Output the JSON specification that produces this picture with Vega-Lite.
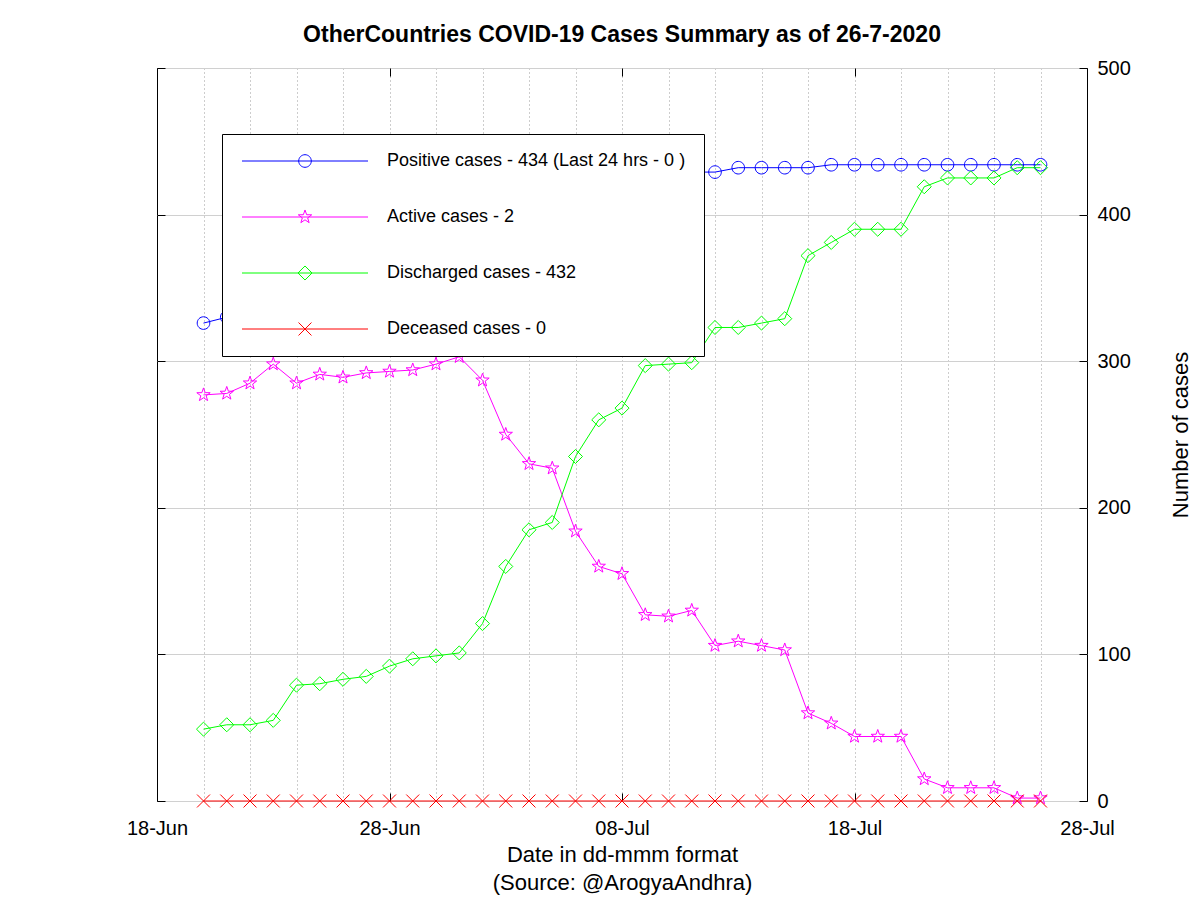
{
  "$schema": "https://vega.github.io/schema/vega-lite/v6.json",
  "width": 930,
  "height": 733,
  "autosize": {"type": "none"},
  "padding": {"left": 157, "top": 68, "right": 113, "bottom": 99},
  "background": "white",
  "title": {
    "text": "OtherCountries COVID-19 Cases Summary as of 26-7-2020",
    "font": "Liberation Sans",
    "fontSize": 23,
    "fontWeight": "bold",
    "color": "#000000",
    "anchor": "middle",
    "baseline": "alphabetic",
    "offset": -7
  },
  "config": {
    "view": {"stroke": "#000000", "strokeWidth": 1},
    "font": "Liberation Sans",
    "axis": {
      "labelFont": "Liberation Sans",
      "titleFont": "Liberation Sans",
      "labelColor": "#000000",
      "titleColor": "#000000",
      "tickColor": "#000000",
      "labelFlush": false,
      "labelOverlap": false,
      "labelBound": false,
      "domain": false
    }
  },
  "data": {
    "values": [
      {"date": "2020-06-20", "positive": 326, "active": 277, "discharged": 49, "deceased": 0},
      {"date": "2020-06-21", "positive": 330, "active": 278, "discharged": 52, "deceased": 0},
      {"date": "2020-06-22", "positive": 337, "active": 285, "discharged": 52, "deceased": 0},
      {"date": "2020-06-23", "positive": 353, "active": 298, "discharged": 55, "deceased": 0},
      {"date": "2020-06-24", "positive": 364, "active": 285, "discharged": 79, "deceased": 0},
      {"date": "2020-06-25", "positive": 371, "active": 291, "discharged": 80, "deceased": 0},
      {"date": "2020-06-26", "positive": 372, "active": 289, "discharged": 83, "deceased": 0},
      {"date": "2020-06-27", "positive": 377, "active": 292, "discharged": 85, "deceased": 0},
      {"date": "2020-06-28", "positive": 385, "active": 293, "discharged": 92, "deceased": 0},
      {"date": "2020-06-29", "positive": 391, "active": 294, "discharged": 97, "deceased": 0},
      {"date": "2020-06-30", "positive": 397, "active": 298, "discharged": 99, "deceased": 0},
      {"date": "2020-07-01", "positive": 404, "active": 303, "discharged": 101, "deceased": 0},
      {"date": "2020-07-02", "positive": 408, "active": 287, "discharged": 121, "deceased": 0},
      {"date": "2020-07-03", "positive": 410, "active": 250, "discharged": 160, "deceased": 0},
      {"date": "2020-07-04", "positive": 415, "active": 230, "discharged": 185, "deceased": 0},
      {"date": "2020-07-05", "positive": 417, "active": 227, "discharged": 190, "deceased": 0},
      {"date": "2020-07-06", "positive": 419, "active": 184, "discharged": 235, "deceased": 0},
      {"date": "2020-07-07", "positive": 420, "active": 160, "discharged": 260, "deceased": 0},
      {"date": "2020-07-08", "positive": 423, "active": 155, "discharged": 268, "deceased": 0},
      {"date": "2020-07-09", "positive": 424, "active": 127, "discharged": 297, "deceased": 0},
      {"date": "2020-07-10", "positive": 424, "active": 126, "discharged": 298, "deceased": 0},
      {"date": "2020-07-11", "positive": 429, "active": 130, "discharged": 299, "deceased": 0},
      {"date": "2020-07-12", "positive": 429, "active": 106, "discharged": 323, "deceased": 0},
      {"date": "2020-07-13", "positive": 432, "active": 109, "discharged": 323, "deceased": 0},
      {"date": "2020-07-14", "positive": 432, "active": 106, "discharged": 326, "deceased": 0},
      {"date": "2020-07-15", "positive": 432, "active": 103, "discharged": 329, "deceased": 0},
      {"date": "2020-07-16", "positive": 432, "active": 60, "discharged": 372, "deceased": 0},
      {"date": "2020-07-17", "positive": 434, "active": 53, "discharged": 381, "deceased": 0},
      {"date": "2020-07-18", "positive": 434, "active": 44, "discharged": 390, "deceased": 0},
      {"date": "2020-07-19", "positive": 434, "active": 44, "discharged": 390, "deceased": 0},
      {"date": "2020-07-20", "positive": 434, "active": 44, "discharged": 390, "deceased": 0},
      {"date": "2020-07-21", "positive": 434, "active": 15, "discharged": 419, "deceased": 0},
      {"date": "2020-07-22", "positive": 434, "active": 9, "discharged": 425, "deceased": 0},
      {"date": "2020-07-23", "positive": 434, "active": 9, "discharged": 425, "deceased": 0},
      {"date": "2020-07-24", "positive": 434, "active": 9, "discharged": 425, "deceased": 0},
      {"date": "2020-07-25", "positive": 434, "active": 2, "discharged": 432, "deceased": 0},
      {"date": "2020-07-26", "positive": 434, "active": 2, "discharged": 432, "deceased": 0}
    ]
  },
  "transform": [
    {"fold": ["positive", "active", "discharged", "deceased"], "as": ["series", "value"]}
  ],
  "encoding": {
    "color": {
      "field": "series",
      "type": "nominal",
      "scale": {
        "domain": ["positive", "active", "discharged", "deceased"],
        "range": ["#0000ff", "#ff00ff", "#00ff00", "#ff0000"]
      },
      "legend": {
        "orient": "none",
        "legendX": 65,
        "legendY": 66,
        "direction": "vertical",
        "columns": 1,
        "title": null,
        "fillColor": "#ffffff",
        "strokeColor": "#000000",
        "padding": 18,
        "labelFont": "Liberation Sans",
        "labelFontSize": 18,
        "labelColor": "#000000",
        "labelLimit": 600,
        "symbolSize": 144,
        "symbolStrokeWidth": 1,
        "symbolOffset": 56,
        "labelOffset": 73,
        "rowPadding": 37,
        "labelExpr": "datum.value === 'positive' ? 'Positive cases - 434 (Last 24 hrs - 0 )\u2002' : datum.value === 'active' ? 'Active cases - 2' : datum.value === 'discharged' ? 'Discharged cases - 432' : 'Deceased cases - 0'",
        "encode": {
          "symbols": {
            "update": {
              "shape": {"signal": "datum.value === 'positive' ? 'M-10.5,0H10.5M1.05,0A1.05,1.05 0 1,1 -1.05,0A1.05,1.05 0 1,1 1.05,0' : datum.value === 'active' ? 'M-10.5,0H10.5M0,-1.17L0.275,-0.379L1.113,-0.362L0.445,0.145L0.688,0.947L0,0.468L-0.688,0.947L-0.445,0.145L-1.113,-0.362L-0.275,-0.379Z' : datum.value === 'discharged' ? 'M-10.5,0H10.5M0,-1.17L1.17,0L0,1.17L-1.17,0Z' : 'M-10.5,0H10.5M-1.08,-1.08L1.08,1.08M-1.08,1.08L1.08,-1.08'"},
              "fill": {"value": "transparent"},
              "strokeWidth": {"value": 1},
              "opacity": {"value": 1}
            }
          }
        }
      }
    }
  },
  "layer": [
    {
      "mark": {"type": "line", "strokeWidth": 1},
      "encoding": {
        "x": {
          "field": "date",
          "type": "temporal",
          "scale": {"type": "utc", "domain": [{"year": 2020, "month": 6, "date": 18, "utc": true}, {"year": 2020, "month": 7, "date": 28, "utc": true}]},
          "axis": {
            "orient": "bottom",
            "values": [
              {"year": 2020, "month": 6, "date": 18, "utc": true},
              {"year": 2020, "month": 6, "date": 28, "utc": true},
              {"year": 2020, "month": 7, "date": 8, "utc": true},
              {"year": 2020, "month": 7, "date": 18, "utc": true},
              {"year": 2020, "month": 7, "date": 28, "utc": true}
            ],
            "format": "%d-%b",
            "tickSize": -8,
            "labelPadding": 25,
            "labelFontSize": 20,
            "grid": false,
            "title": ["Date in dd-mmm format", "(Source: @ArogyaAndhra)"],
            "titleFontSize": 22,
            "titleFontWeight": "normal",
            "titlePadding": 6,
            "titleLineHeight": 28
          }
        },
        "y": {
          "field": "value",
          "type": "quantitative",
          "scale": {"domain": [0, 500], "nice": false},
          "axis": {
            "orient": "right",
            "values": [0, 100, 200, 300, 400, 500],
            "format": "d",
            "tickSize": -8,
            "labelPadding": 18,
            "labelFontSize": 20,
            "grid": false,
            "title": "Number of cases",
            "titleFontSize": 22,
            "titleFontWeight": "normal",
            "titleAngle": 270,
            "titleBaseline": "top",
            "titlePadding": 40
          }
        }
      }
    },
    {
      "transform": [{"filter": "datum.series === 'positive'"}],
      "mark": {"type": "point", "filled": false, "strokeWidth": 1, "size": 144, "opacity": 1, "shape": "M1.05,0A1.05,1.05 0 1,1 -1.05,0A1.05,1.05 0 1,1 1.05,0Z"},
      "encoding": {
        "x": {
          "field": "date",
          "type": "temporal",
          "scale": {"type": "utc", "domain": [{"year": 2020, "month": 6, "date": 18, "utc": true}, {"year": 2020, "month": 7, "date": 28, "utc": true}]},
          "axis": {
            "orient": "bottom",
            "values": [
              {"year": 2020, "month": 6, "date": 20, "utc": true},
              {"year": 2020, "month": 6, "date": 22, "utc": true},
              {"year": 2020, "month": 6, "date": 24, "utc": true},
              {"year": 2020, "month": 6, "date": 26, "utc": true},
              {"year": 2020, "month": 6, "date": 28, "utc": true},
              {"year": 2020, "month": 6, "date": 30, "utc": true},
              {"year": 2020, "month": 7, "date": 2, "utc": true},
              {"year": 2020, "month": 7, "date": 4, "utc": true},
              {"year": 2020, "month": 7, "date": 6, "utc": true},
              {"year": 2020, "month": 7, "date": 8, "utc": true},
              {"year": 2020, "month": 7, "date": 10, "utc": true},
              {"year": 2020, "month": 7, "date": 12, "utc": true},
              {"year": 2020, "month": 7, "date": 14, "utc": true},
              {"year": 2020, "month": 7, "date": 16, "utc": true},
              {"year": 2020, "month": 7, "date": 18, "utc": true},
              {"year": 2020, "month": 7, "date": 20, "utc": true},
              {"year": 2020, "month": 7, "date": 22, "utc": true},
              {"year": 2020, "month": 7, "date": 24, "utc": true},
              {"year": 2020, "month": 7, "date": 26, "utc": true}
            ],
            "grid": true,
            "gridDash": [1, 3],
            "gridColor": "#9a9a9a",
            "gridOpacity": 1,
            "gridWidth": 1,
            "ticks": false,
            "labels": false,
            "title": null
          }
        },
        "y": {
          "field": "value",
          "type": "quantitative",
          "scale": {"domain": [0, 500], "nice": false},
          "axis": {
            "orient": "left",
            "values": [0, 100, 200, 300, 400, 500],
            "grid": true,
            "gridColor": "#d0d0d0",
            "gridOpacity": 1,
            "gridWidth": 1,
            "labels": false,
            "tickSize": -8,
            "title": null
          }
        }
      }
    },
    {
      "transform": [{"filter": "datum.series === 'active'"}],
      "mark": {"type": "point", "filled": false, "strokeWidth": 1, "size": 144, "opacity": 1, "shape": "M0,-1.17L0.275,-0.379L1.113,-0.362L0.445,0.145L0.688,0.947L0,0.468L-0.688,0.947L-0.445,0.145L-1.113,-0.362L-0.275,-0.379Z"},
      "encoding": {
        "x": {
          "field": "date",
          "type": "temporal",
          "scale": {"type": "utc", "domain": [{"year": 2020, "month": 6, "date": 18, "utc": true}, {"year": 2020, "month": 7, "date": 28, "utc": true}]},
          "axis": {
            "orient": "top",
            "values": [
              {"year": 2020, "month": 6, "date": 18, "utc": true},
              {"year": 2020, "month": 6, "date": 28, "utc": true},
              {"year": 2020, "month": 7, "date": 8, "utc": true},
              {"year": 2020, "month": 7, "date": 18, "utc": true},
              {"year": 2020, "month": 7, "date": 28, "utc": true}
            ],
            "tickSize": -8,
            "labels": false,
            "grid": false,
            "title": null
          }
        },
        "y": {
          "field": "value",
          "type": "quantitative",
          "scale": {"domain": [0, 500], "nice": false},
          "axis": null
        }
      }
    },
    {
      "transform": [{"filter": "datum.series === 'discharged'"}],
      "mark": {"type": "point", "filled": false, "strokeWidth": 1, "size": 144, "opacity": 1, "shape": "M0,-1.17L1.17,0L0,1.17L-1.17,0Z"},
      "encoding": {
        "x": {
          "field": "date",
          "type": "temporal",
          "scale": {"type": "utc", "domain": [{"year": 2020, "month": 6, "date": 18, "utc": true}, {"year": 2020, "month": 7, "date": 28, "utc": true}]},
          "axis": null
        },
        "y": {
          "field": "value",
          "type": "quantitative",
          "scale": {"domain": [0, 500], "nice": false},
          "axis": null
        }
      }
    },
    {
      "transform": [{"filter": "datum.series === 'deceased'"}],
      "mark": {"type": "point", "filled": false, "strokeWidth": 1, "size": 144, "opacity": 1, "shape": "M-1.08,-1.08L1.08,1.08M-1.08,1.08L1.08,-1.08"},
      "encoding": {
        "x": {
          "field": "date",
          "type": "temporal",
          "scale": {"type": "utc", "domain": [{"year": 2020, "month": 6, "date": 18, "utc": true}, {"year": 2020, "month": 7, "date": 28, "utc": true}]},
          "axis": null
        },
        "y": {
          "field": "value",
          "type": "quantitative",
          "scale": {"domain": [0, 500], "nice": false},
          "axis": null
        }
      }
    }
  ],
  "resolve": {"axis": {"x": "independent", "y": "independent"}}
}
